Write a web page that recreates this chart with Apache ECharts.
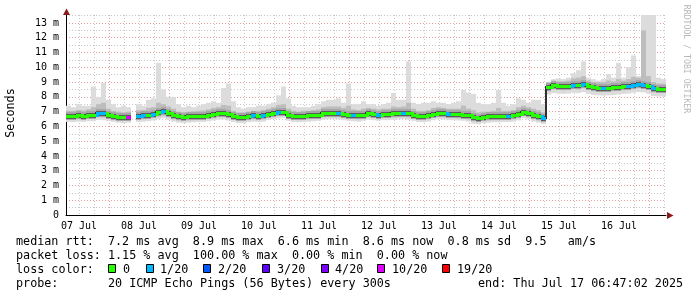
<!DOCTYPE html>
<html><head><meta charset="utf-8">
<script src="https://cdn.jsdelivr.net/npm/echarts@6/dist/echarts.min.js"></script>
<style>html,body{margin:0;padding:0;background:#fff}#c{width:697px;height:297px}</style>
</head><body><div id="c"></div><script>
// time: hours since 07 Jul 00:00; graph spans 07 Jul 06:47:02 .. 17 Jul 06:47:02
const startHour = 6.784;
const binHours = 2;
const dayLabels = ["07 Jul","08 Jul","09 Jul","10 Jul","11 Jul","12 Jul","13 Jul","14 Jul","15 Jul","16 Jul"];
const labelHours = [12,36,60,84,108,132,156,180,204,228];
const yTickLabels = ["0","1 m","2 m","3 m","4 m","5 m","6 m","7 m","8 m","9 m","10 m","11 m","12 m","13 m"];

// median rtt (ms), 2-hour bins
const median = [6.72,6.72,6.75,6.72,6.78,6.80,6.92,6.88,6.80,6.72,
 6.66,6.62,6.65,null,6.72,6.75,6.80,6.85,6.95,7.02,
 6.90,6.75,6.68,6.66,6.68,6.70,6.72,6.72,6.78,6.85,
 6.90,6.92,6.85,6.72,6.65,6.65,6.70,6.75,6.72,6.75,
 6.85,6.90,6.98,7.00,6.80,6.72,6.70,6.72,6.75,6.78,
 6.80,6.88,6.90,6.92,6.90,6.85,6.80,6.78,6.75,6.80,
 6.88,6.85,6.80,6.85,6.85,6.88,6.90,6.92,6.88,6.80,
 6.72,6.70,6.75,6.85,6.92,6.90,6.85,6.85,6.82,6.80,
 6.75,6.62,6.60,6.65,6.68,6.70,6.70,6.72,6.72,6.75,
 6.82,6.98,6.92,6.75,6.68,6.60,8.65,8.78,8.75,8.72,
 8.75,8.80,8.78,8.85,8.72,8.65,8.62,8.60,8.62,8.65,
 8.68,8.72,8.75,8.80,8.85,8.82,8.75,8.58,8.55,8.55];
// lost pings out of 20
const loss = [0,0,0,0,0,0,1,1,0,0,
 0,0,10,null,1,1,0,1,0,1,
 0,0,0,0,0,0,0,0,0,0,
 0,0,0,0,0,0,0,1,0,1,
 0,0,1,0,0,0,0,0,0,0,
 0,0,0,0,1,0,0,1,0,0,
 0,0,1,0,0,0,0,1,0,0,
 0,0,0,0,0,0,1,0,0,0,
 0,0,0,0,0,0,0,0,1,0,
 0,0,0,0,0,1,0,0,0,0,
 0,1,0,1,0,0,0,1,0,0,
 0,0,1,1,1,1,0,1,0,0];
// smoke: slowest ping
const pingMax = [7.4,7.3,7.5,7.4,7.4,8.7,8.0,8.95,7.8,7.5,
 7.3,7.4,7.3,null,7.5,7.4,7.8,7.9,10.3,8.5,
 8.0,8.0,7.5,7.3,7.4,7.3,7.4,7.5,7.6,7.7,
 7.6,8.6,8.9,7.7,7.3,7.2,7.3,7.3,7.4,7.4,
 7.5,7.6,8.1,8.7,7.9,7.4,7.3,7.3,7.3,7.4,
 7.5,7.7,7.8,7.8,7.9,7.6,8.9,7.5,7.5,7.7,
 7.5,7.5,7.4,7.5,7.6,8.26,7.8,7.8,10.4,7.6,
 7.5,7.6,7.6,7.7,7.6,7.6,7.5,7.6,7.7,8.46,
 8.3,8.2,7.6,7.5,7.5,7.6,8.46,7.6,7.4,7.5,
 7.9,7.8,7.6,7.8,7.8,7.5,9.0,9.2,9.25,9.2,
 9.3,9.6,9.8,10.4,9.3,9.2,9.1,9.2,9.55,9.3,
 10.3,9.3,10.0,10.8,9.4,13.6,13.6,13.6,9.3,9.2];
// smoke: upper (~p90)
const pingHigh = [7.05,7.05,7.10,7.08,7.15,7.30,7.50,7.60,7.20,7.05,
 7.00,6.95,7.00,null,7.10,7.10,7.25,7.30,7.60,7.50,
 7.35,7.20,7.00,6.98,7.00,7.02,7.05,7.08,7.15,7.25,
 7.30,7.45,7.40,7.05,6.95,6.95,7.00,7.05,7.05,7.10,
 7.20,7.30,7.45,7.50,7.20,7.05,7.00,7.05,7.05,7.10,
 7.15,7.30,7.35,7.35,7.35,7.25,7.40,7.15,7.10,7.20,
 7.25,7.20,7.15,7.20,7.20,7.35,7.30,7.35,7.60,7.20,
 7.05,7.05,7.10,7.25,7.30,7.25,7.20,7.20,7.20,7.40,
 7.20,7.10,6.95,7.00,7.00,7.05,7.25,7.05,7.05,7.10,
 7.30,7.40,7.30,7.20,7.10,6.95,9.00,9.10,9.05,9.05,
 9.10,9.25,9.30,9.40,9.10,9.00,9.00,9.00,9.10,9.05,
 9.20,9.10,9.20,9.35,9.30,12.5,9.40,9.00,8.90,8.90];
// smoke: lower (~p10)
const pingLow = [6.45,6.45,6.48,6.45,6.50,6.52,6.62,6.60,6.52,6.45,
 6.40,6.38,6.40,null,6.45,6.48,6.52,6.58,6.65,6.72,
 6.62,6.48,6.40,6.38,6.40,6.42,6.45,6.45,6.50,6.55,
 6.62,6.62,6.55,6.45,6.38,6.38,6.42,6.48,6.45,6.48,
 6.58,6.62,6.70,6.72,6.52,6.45,6.42,6.45,6.48,6.50,
 6.52,6.60,6.62,6.62,6.62,6.58,6.52,6.50,6.48,6.52,
 6.60,6.58,6.52,6.58,6.58,6.60,6.62,6.65,6.60,6.52,
 6.45,6.42,6.48,6.58,6.62,6.62,6.58,6.58,6.55,6.52,
 6.48,6.35,6.32,6.38,6.40,6.42,6.42,6.45,6.45,6.48,
 6.55,6.70,6.62,6.48,6.40,6.32,8.38,8.50,8.48,8.45,
 8.48,8.52,8.50,8.58,8.45,8.38,8.35,8.32,8.35,8.38,
 8.40,8.45,8.48,8.52,8.58,8.55,8.48,8.30,8.28,8.28];
// smoke: fastest ping
const pingMin = [6.30,6.30,6.32,6.30,6.35,6.35,6.45,6.42,6.35,6.30,
 6.25,6.22,6.25,null,6.30,6.32,6.35,6.40,6.48,6.55,
 6.45,6.32,6.25,6.22,6.25,6.28,6.30,6.30,6.35,6.40,
 6.45,6.48,6.40,6.30,6.22,6.22,6.28,6.32,6.30,6.32,
 6.42,6.48,6.55,6.58,6.38,6.30,6.28,6.30,6.32,6.35,
 6.38,6.45,6.48,6.48,6.48,6.42,6.38,6.35,6.32,6.38,
 6.45,6.42,6.38,6.42,6.42,6.45,6.48,6.50,6.45,6.38,
 6.30,6.28,6.32,6.42,6.48,6.48,6.42,6.42,6.40,6.38,
 6.32,6.18,6.15,6.22,6.25,6.28,6.28,6.30,6.30,6.32,
 6.40,6.55,6.48,6.32,6.25,6.15,8.15,8.25,8.22,8.20,
 8.22,8.28,8.25,8.32,8.20,8.12,8.10,8.08,8.10,8.12,
 8.15,8.20,8.22,8.28,8.32,8.30,8.22,8.05,8.02,8.02];

const lossSteps = [0,1,2,3,4,10,19];
const lossLabels = ["0","1/20","2/20","3/20","4/20","10/20","19/20"];
const lossColors = ['#26ff00','#00b8ff','#0059ff','#5e00ff','#7e00ff','#dd00ff','#ff0000'];
function colorFor(l){ let c = lossColors[0]; for (let k=0;k<lossSteps.length;k++){ if (l>=lossSteps[k]) c = lossColors[k]; } return c; }

const FONT = 'DejaVu Sans Mono';
const gridHours = [];
for (let h = 12; h < startHour + 240; h += 6) gridHours.push(h);

function bandRows(lo, hi){ return lo.map((v,i)=>[startHour+i*binHours, startHour+(i+1)*binHours, v==null?NaN:v, hi[i]==null?NaN:hi[i]]); }
function bandSeries(lo, hi, color){
  return {type:'custom', clip:true, silent:true, z:2, encode:{x:[0,1], y:[2,3]}, data: bandRows(lo, hi),
    renderItem(params, api){
      const l = api.value(2), h = api.value(3);
      if (isNaN(l) || isNaN(h)) return null;
      const a = api.coord([api.value(0), h]), b = api.coord([api.value(1), l]);
      const x0 = Math.round(a[0]), x1 = Math.round(b[0]);
      return {type:'rect', shape:{x:x0, y:a[1], width:x1-x0, height:b[1]-a[1]}, style:{fill:color}};
    }};
}
const medRows = median.map((v,i)=>[startHour+i*binHours, startHour+(i+1)*binHours, v==null?NaN:v, loss[i]==null?NaN:loss[i], (i>0 && median[i-1]!=null)?median[i-1]:NaN]);

const haloSeries = {type:'custom', clip:true, silent:true, z:3, encode:{x:[0,1], y:2}, data: medRows,
  renderItem(params, api){
    const m = api.value(2); if (isNaN(m)) return null;
    const a = api.coord([api.value(0), m]), b = api.coord([api.value(1), m]);
    const x0 = Math.round(a[0]), x1 = Math.round(b[0]), y = Math.round(a[1]);
    const ch = [
      {type:'rect', shape:{x:x0, y:y-4, width:x1-x0, height:8}, style:{fill:'#a6a6a6'}},
      {type:'rect', shape:{x:x0, y:y-2, width:x1-x0, height:5}, style:{fill:'#5c5c5c'}}
    ];
    const p = api.value(4);
    if (!isNaN(p)) {
      const py = Math.round(api.coord([api.value(0), p])[1]);
      ch.push({type:'rect', shape:{x:x0-1, y:Math.min(py,y)-1, width:2, height:Math.abs(py-y)+2}, style:{fill:'#303030'}});
    }
    return {type:'group', children: ch};
  }};
const medianSeries = {type:'custom', clip:true, silent:true, z:4, encode:{x:[0,1], y:2}, data: medRows,
  renderItem(params, api){
    const m = api.value(2); if (isNaN(m)) return null;
    const col = colorFor(api.value(3));
    const a = api.coord([api.value(0), m]), b = api.coord([api.value(1), m]);
    const x0 = Math.round(a[0]), x1 = Math.round(b[0]), y = Math.round(a[1]);
    const ch = [{type:'rect', shape:{x:x0, y:y-1, width:x1-x0, height:3}, style:{fill:col}}];
    const p = api.value(4);
    if (!isNaN(p) && Math.abs(p-m) < 0.5) {
      const py = Math.round(api.coord([api.value(0), p])[1]);
      ch.push({type:'rect', shape:{x:x0, y:Math.min(py,y)-1, width:3, height:Math.abs(py-y)+3}, style:{fill:col}});
    }
    return {type:'group', children: ch};
  }};

function txt(s, x, y, extra, rot){
  return {type:'text', x:x, y:y, rotation:rot||0, z:50,
    style:Object.assign({text:s, fontFamily:FONT, fontSize:11.75, fill:'#000', verticalAlign:'middle', align:'left'}, extra||{})};
}
const legendItems = [];
const sqX = [108,146,203,262,321,377,442];
const lbX = [123,160,218,277,335,392,457];
lossLabels.forEach((t,k)=>{
  legendItems.push({type:'rect', x:sqX[k]+0.5, y:264.5, z:50, shape:{x:0,y:0,width:7,height:8}, style:{fill:lossColors[k], stroke:'#000', lineWidth:1}});
  legendItems.push(txt(t, lbX[k], 269.5));
});

const chart = echarts.init(document.getElementById('c'), null, {renderer:'canvas'});
chart.setOption({
  animation:false,
  backgroundColor:'#ffffff',
  grid:{left:66, top:15, width:600, height:200, containLabel:false},
  xAxis:{type:'value', min:startHour, max:startHour+240,
    axisLine:{show:true, lineStyle:{color:'#000', width:1}},
    axisTick:{show:false, customValues:gridHours},
    axisLabel:{customValues:labelHours, formatter:(v)=>dayLabels[Math.floor(v/24)], fontFamily:FONT, fontSize:10, color:'#000', margin:6},
    splitLine:{show:true, lineStyle:{color:['#c8c8c8','#c8c8c8','#e6a0a0','#c8c8c8'], type:[1,2], width:1}}
  },
  yAxis:{type:'value', min:0, max:13.54, interval:0.5,
    axisLine:{show:true, lineStyle:{color:'#000', width:1}},
    axisTick:{show:false},
    axisLabel:{showMaxLabel:false, formatter:(v)=>{ const k=Math.round(v*2); return (k%2===0 && Math.abs(v*2-k)<1e-6) ? (yTickLabels[k/2]||'') : ''; }, fontFamily:FONT, fontSize:10, color:'#000', margin:7},
    splitLine:{show:true, showMaxLine:false, lineStyle:{color:['#e6a0a0','#c8c8c8'], type:[1,2], width:1}}
  },
  series:[
    bandSeries(pingMin, pingMax, '#dcdcdc'),
    bandSeries(pingLow, pingHigh, '#bdbdbd'),
    haloSeries,
    medianSeries
  ],
  graphic:[
    {type:'polygon', z:100, shape:{points:[[63,15],[70,15],[66.5,8.5]]}, style:{fill:'#8b1a1a'}},
    {type:'polygon', z:100, shape:{points:[[667,212],[667,219],[673.5,215.5]]}, style:{fill:'#8b1a1a'}},
    txt('Seconds', 10.5, 113, {align:'center'}, Math.PI/2),
    txt('RRDTOOL / TOBI OETIKER', 686, 59, {align:'center', fontSize:8.2, fill:'#b8b8b8'}, -Math.PI/2),
    txt('median rtt:  7.2 ms avg  8.9 ms max  6.6 ms min  8.6 ms now  0.8 ms sd  9.5   am/s', 16, 241.5),
    txt('packet loss: 1.15 % avg  100.00 % max  0.00 % min  0.00 % now', 16, 255.5),
    txt('loss color:', 16, 269.5),
    txt('probe:       20 ICMP Echo Pings (56 Bytes) every 300s', 16, 283.5),
    txt('end: Thu Jul 17 06:47:02 2025', 478, 283.5)
  ].concat(legendItems)
});
</script></body></html>
